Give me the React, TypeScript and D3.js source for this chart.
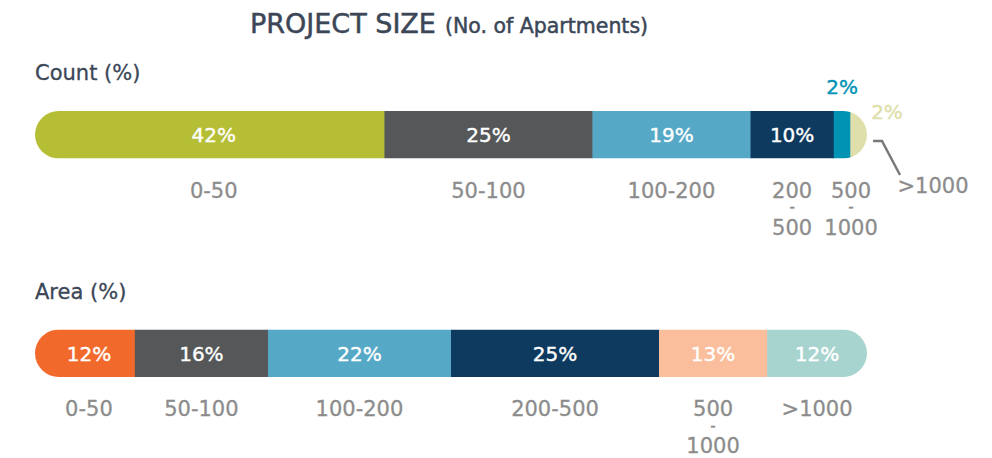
import React from "react";
import * as d3 from "d3";

const categories = ["0-50", "50-100", "100-200", "200-500", "500-1000", ">1000"];
const countValues = [42, 25, 19, 10, 2, 2];
const areaValues = [12, 16, 22, 25, 13, 12];
const countTickLabels = [["0-50"], ["50-100"], ["100-200"], ["200", "-", "500"], ["500", "-", "1000"], [">1000"]];
const areaTickLabels = [["0-50"], ["50-100"], ["100-200"], ["200-500"], ["500", "-", "1000"], [">1000"]];
const countColors = ["#B5BE35", "#555759", "#55A8C6", "#0D3A5E", "#0093B4", "#DEDFAB"];
const areaColors = ["#F26A2B", "#555759", "#55A8C6", "#0D3A5E", "#FABE9C", "#A8D4D0"];

const FONT = "'DejaVu Sans', sans-serif";
const TITLE = "#3B4657";
const GRAY = "#8C8C8C";

function stack(values: number[]) {
  let acc = 0;
  return values.map((v) => {
    const s = { x0: acc, x1: acc + v, v };
    acc += v;
    return s;
  });
}

function Bar({ id, values, colors, labels, y, h, special }: any) {
  const x = d3.scaleLinear().domain([0, 100]).range([35, 867]);
  const segs = stack(values);
  const r = h / 2;
  return (
    <g>
      <defs>
        <clipPath id={id}>
          <rect x={x(0)} y={y} width={x(100) - x(0)} height={h} rx={r} ry={r} />
        </clipPath>
      </defs>
      <g clipPath={`url(#${id})`}>
        {segs.map((s, i) => (
          <rect key={i} x={x(s.x0)} y={y} width={x(s.x1) - x(s.x0) + 0.5} height={h} fill={colors[i]} />
        ))}
      </g>
      {segs.map((s, i) => {
        const cx = (x(s.x0) + (i === 0 ? 8 : 0) + x(s.x1)) / 2;
        if (s.v >= 5) {
          return (
            <text key={"v" + i} x={cx} y={y + h / 2 + 7.5} textAnchor="middle" fill="#fff" stroke="#fff" strokeWidth={0.4} fontSize={20} fontFamily={FONT}>
              {s.v}%
            </text>
          );
        }
        return null;
      })}
      {segs.map((s, i) => {
        let cx = (x(s.x0) + (i === 0 ? 8 : 0) + x(s.x1)) / 2;
        const lines = labels[i];
        if (special && i === 4) cx += 9;
        if (special && i === 5) {
          return (
            <text key={"c" + i} x={933} y={193} textAnchor="middle" fill={GRAY} stroke={GRAY} strokeWidth={0.3} fontSize={21} fontFamily={FONT}>
              {lines[0]}
            </text>
          );
        }
        const base = y + h + 39;
        return (
          <text key={"c" + i} textAnchor="middle" fill={GRAY} stroke={GRAY} strokeWidth={0.3} fontSize={21} fontFamily={FONT}>
            {lines.length === 1 ? (
              <tspan x={cx} y={base}>{lines[0]}</tspan>
            ) : (
              <>
                <tspan x={cx} y={base}>{lines[0]}</tspan>
                <tspan x={cx} y={base + 14.5} fontSize={15}>{lines[1]}</tspan>
                <tspan x={cx} y={base + 37}>{lines[2]}</tspan>
              </>
            )}
          </text>
        );
      })}
    </g>
  );
}

export default function App() {
  const x = d3.scaleLinear().domain([0, 100]).range([35, 867]);
  const cs = stack(countValues);
  return (
    <svg width={992} height={458} style={{ position: "absolute", left: 0, top: 0, display: "block" }}>
      <rect width={992} height={458} fill="#fff" />
      <text x={250} y={33} fill={TITLE} stroke={TITLE} strokeWidth={0.5} fontFamily={FONT}>
        <tspan fontSize={27}>PROJECT SIZE</tspan>
        <tspan fontSize={20.5} dx={9}>(No. of Apartments)</tspan>
      </text>
      <text x={35} y={80} fill={TITLE} stroke={TITLE} strokeWidth={0.3} fontSize={21} fontFamily={FONT}>Count (%)</text>
      <text x={35} y={299} fill={TITLE} stroke={TITLE} strokeWidth={0.3} fontSize={21} fontFamily={FONT}>Area (%)</text>

      <Bar id="clipCount" values={countValues} colors={countColors} labels={countTickLabels} y={111} h={47.5} special />
      <Bar id="clipArea" values={areaValues} colors={areaColors} labels={areaTickLabels} y={329.5} h={47.5} />

      <text x={(x(cs[4].x0) + x(cs[4].x1)) / 2} y={94} textAnchor="middle" fill={countColors[4]} stroke={countColors[4]} strokeWidth={0.4} fontSize={20} fontFamily={FONT}>
        {cs[4].v}%
      </text>
      <text x={887} y={119} textAnchor="middle" fill={countColors[5]} stroke={countColors[5]} strokeWidth={0.4} fontSize={20} fontFamily={FONT}>
        {cs[5].v}%
      </text>
      <polyline points="873,141 882,141 900,175" fill="none" stroke="#7A7A7A" strokeWidth={2.5} />
    </svg>
  );
}
